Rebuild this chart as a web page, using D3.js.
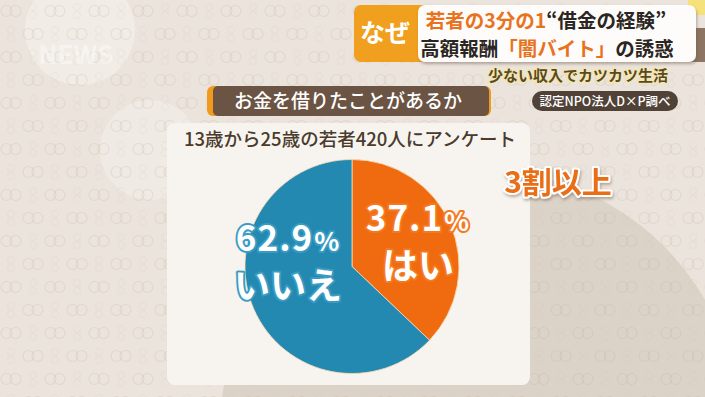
<!DOCTYPE html>
<html lang="ja">
<head>
<meta charset="UTF-8">
<title>お金を借りたことがあるか</title>
<script src="https://d3js.org/d3.v7.min.js"></script>
<style>
    body { margin: 0; padding: 0; background: #ebe4dc; }
    svg { display: block; font-family: "Noto Sans CJK JP", "Noto Sans", sans-serif; }
</style>
</head>
<body>
<svg id="chart"></svg>
<script>
    // データ
    const categories = ["はい", "いいえ"];
    const values = [37.1, 62.9];
    const colors = ["#f06a0f", "#2389b0"];
    const outline = ["#f47a22", "#3a9cc4"];

    const W = 705, H = 397;
    const svg = d3.select("#chart").attr("width", W).attr("height", H);
    const defs = svg.append("defs");

    // 背景の模様
    const pat = defs.append("pattern")
        .attr("id", "rings").attr("patternUnits", "userSpaceOnUse")
        .attr("width", 44).attr("height", 46);
    [[11, 11], [33, 34]].forEach(([cx, cy]) => {
        [-4.5, 4.5].forEach(o => pat.append("circle")
            .attr("cx", cx + o).attr("cy", cy).attr("r", 5.5)
            .attr("fill", "none").attr("stroke", "rgba(180,155,130,0.18)").attr("stroke-width", 1.1));
        [-4, 4].forEach(o => pat.append("circle")
            .attr("cx", cx + 22 > 44 ? cx - 22 : cx + 22).attr("cy", cy + o).attr("r", 3.5)
            .attr("fill", "none").attr("stroke", "rgba(180,155,130,0.09)").attr("stroke-width", 1));
    });

    const shadow = defs.append("filter").attr("id", "sh").attr("x", "-20%").attr("y", "-20%").attr("width", "140%").attr("height", "160%");
    shadow.append("feDropShadow").attr("dx", 1).attr("dy", 2).attr("stdDeviation", 1.5).attr("flood-color", "#6b5540").attr("flood-opacity", 0.45);

    svg.append("rect").attr("width", W).attr("height", H).attr("fill", "#ebe4dc");
    svg.append("circle").attr("cx", 480).attr("cy", 430).attr("r", 260).attr("fill", "#dcd3c8");
    svg.append("circle").attr("cx", 80).attr("cy", 30).attr("r", 55).attr("fill", "#f3efea").attr("opacity", 0.7);
    svg.append("circle").attr("cx", 150).attr("cy", 150).attr("r", 50).attr("fill", "#f3efea").attr("opacity", 0.5);
    svg.append("rect").attr("width", W).attr("height", H).attr("fill", "url(#rings)");

    // ロゴ (うすく)
    svg.append("text").attr("x", 38).attr("y", 64).text("NEWS")
        .attr("font-size", 26).attr("font-weight", 700).attr("fill", "#ffffff").attr("opacity", 0.4);

    // 右上の飾り
    svg.append("rect").attr("x", 688).attr("y", -5).attr("width", 30).attr("height", 20).attr("rx", 6).attr("fill", "#f6e27a");
    svg.append("rect").attr("x", 680).attr("y", 28).attr("width", 40).attr("height", 34).attr("rx", 12).attr("fill", "#8c7562");

    // 白いパネル
    svg.append("rect").attr("x", 167).attr("y", 123).attr("width", 363).attr("height", 262)
        .attr("rx", 8).attr("fill", "#f7f4ef");

    // 見出し
    svg.append("rect").attr("x", 207).attr("y", 86).attr("width", 284).attr("height", 30).attr("rx", 6).attr("fill", "#f09a1e");
    svg.append("rect").attr("x", 213).attr("y", 86).attr("width", 276).attr("height", 30).attr("rx", 5).attr("fill", "#6b5443");
    svg.append("text").attr("x", 348).attr("y", 108).attr("text-anchor", "middle")
        .attr("font-size", 19).attr("font-weight", 500).attr("fill", "#ffffff")
        .text("お金を借りたことがあるか");

    svg.append("text").attr("x", 350).attr("y", 146).attr("text-anchor", "middle")
        .attr("font-size", 18.5).attr("font-weight", 500).attr("fill", "#4a3b2c")
        .text("13歳から25歳の若者420人にアンケート");

    // 円グラフ
    const cx = 352, cy = 266.5, R = 107;
    const pie = d3.pie().sort(null).value(d => d)(values);
    const arc = d3.arc().innerRadius(0).outerRadius(R);
    const g = svg.append("g").attr("transform", `translate(${cx},${cy})`);
    g.selectAll("path").data(pie).join("path")
        .attr("d", arc)
        .attr("fill", (d, i) => colors[i])
        .attr("stroke", "#f6dcb8").attr("stroke-width", 0.8);

    const labelArc = d3.arc().innerRadius(R * 0.62).outerRadius(R * 0.62);
    const shift = [[5, -9], [-3, -42]];
    const lab = g.selectAll("g.lab").data(pie).join("g").attr("class", "lab")
        .attr("transform", (d, i) => {
            const [x, y] = labelArc.centroid(d);
            return `translate(${x + shift[i][0]},${y + shift[i][1]})`;
        });
    const pct = lab.append("text").attr("text-anchor", "middle").attr("y", 0)
        .attr("font-weight", 700).attr("fill", "#ffffff").attr("letter-spacing", 1)
        .attr("stroke", (d, i) => outline[i]).attr("stroke-width", 4).attr("paint-order", "stroke")
        .attr("stroke-linejoin", "round");
    pct.append("tspan").attr("font-size", 35).text((d, i) => values[i].toFixed(1));
    pct.append("tspan").attr("font-size", 26).attr("dx", 1).text("%");
    lab.append("text").attr("text-anchor", "middle").attr("y", 48)
        .attr("font-size", 36).attr("font-weight", 700).attr("fill", "#ffffff")
        .attr("stroke", (d, i) => outline[i]).attr("stroke-width", 4).attr("paint-order", "stroke")
        .attr("stroke-linejoin", "round")
        .text((d, i) => categories[i]);

    // 3割以上
    svg.append("text").attr("x", 558).attr("y", 193).attr("text-anchor", "middle")
        .attr("font-size", 30).attr("font-weight", 700).attr("fill", "#ea6e17")
        .attr("stroke", "#ffffff").attr("stroke-width", 4).attr("paint-order", "stroke")
        .attr("stroke-linejoin", "round").attr("filter", "url(#sh)")
        .text("3割以上");

    // テロップ
    svg.append("rect").attr("x", 354).attr("y", 5).attr("width", 80).attr("height", 57).attr("rx", 7).attr("fill", "#f0a01e");
    svg.append("rect").attr("x", 418).attr("y", 5).attr("width", 278).attr("height", 57).attr("rx", 7).attr("fill", "#fdfcfa").attr("filter", "url(#sh)");
    svg.append("text").attr("x", 385).attr("y", 42).attr("text-anchor", "middle")
        .attr("font-size", 25).attr("font-weight", 700).attr("fill", "#ffffff").text("なぜ");

    const t1 = svg.append("text").attr("x", 546).attr("y", 28).attr("text-anchor", "middle")
        .attr("font-size", 19.5).attr("font-weight", 700);
    t1.append("tspan").attr("fill", "#e8731e").text("若者の3分の1");
    t1.append("tspan").attr("fill", "#2b2622").text("“借金の経験”");
    const t2 = svg.append("text").attr("x", 547).attr("y", 56).attr("text-anchor", "middle")
        .attr("font-size", 19.5).attr("font-weight", 700);
    t2.append("tspan").attr("fill", "#2b2622").text("高額報酬");
    t2.append("tspan").attr("fill", "#e8731e").text("「闇バイト」");
    t2.append("tspan").attr("fill", "#2b2622").text("の誘惑");

    svg.append("text").attr("x", 578).attr("y", 81).attr("text-anchor", "middle")
        .attr("font-size", 15).attr("font-weight", 700).attr("fill", "#5a4a22")
        .attr("stroke", "#f3e6b4").attr("stroke-width", 3).attr("paint-order", "stroke")
        .attr("stroke-linejoin", "round")
        .text("少ない収入でカツカツ生活");

    svg.append("rect").attr("x", 532).attr("y", 91).attr("width", 146).attr("height", 20).attr("rx", 10).attr("fill", "#514238");
    svg.append("text").attr("x", 605).attr("y", 105.5).attr("text-anchor", "middle")
        .attr("font-size", 12.5).attr("font-weight", 500).attr("fill", "#ffffff")
        .text("認定NPO法人D×P調べ");
</script>
</body>
</html>
